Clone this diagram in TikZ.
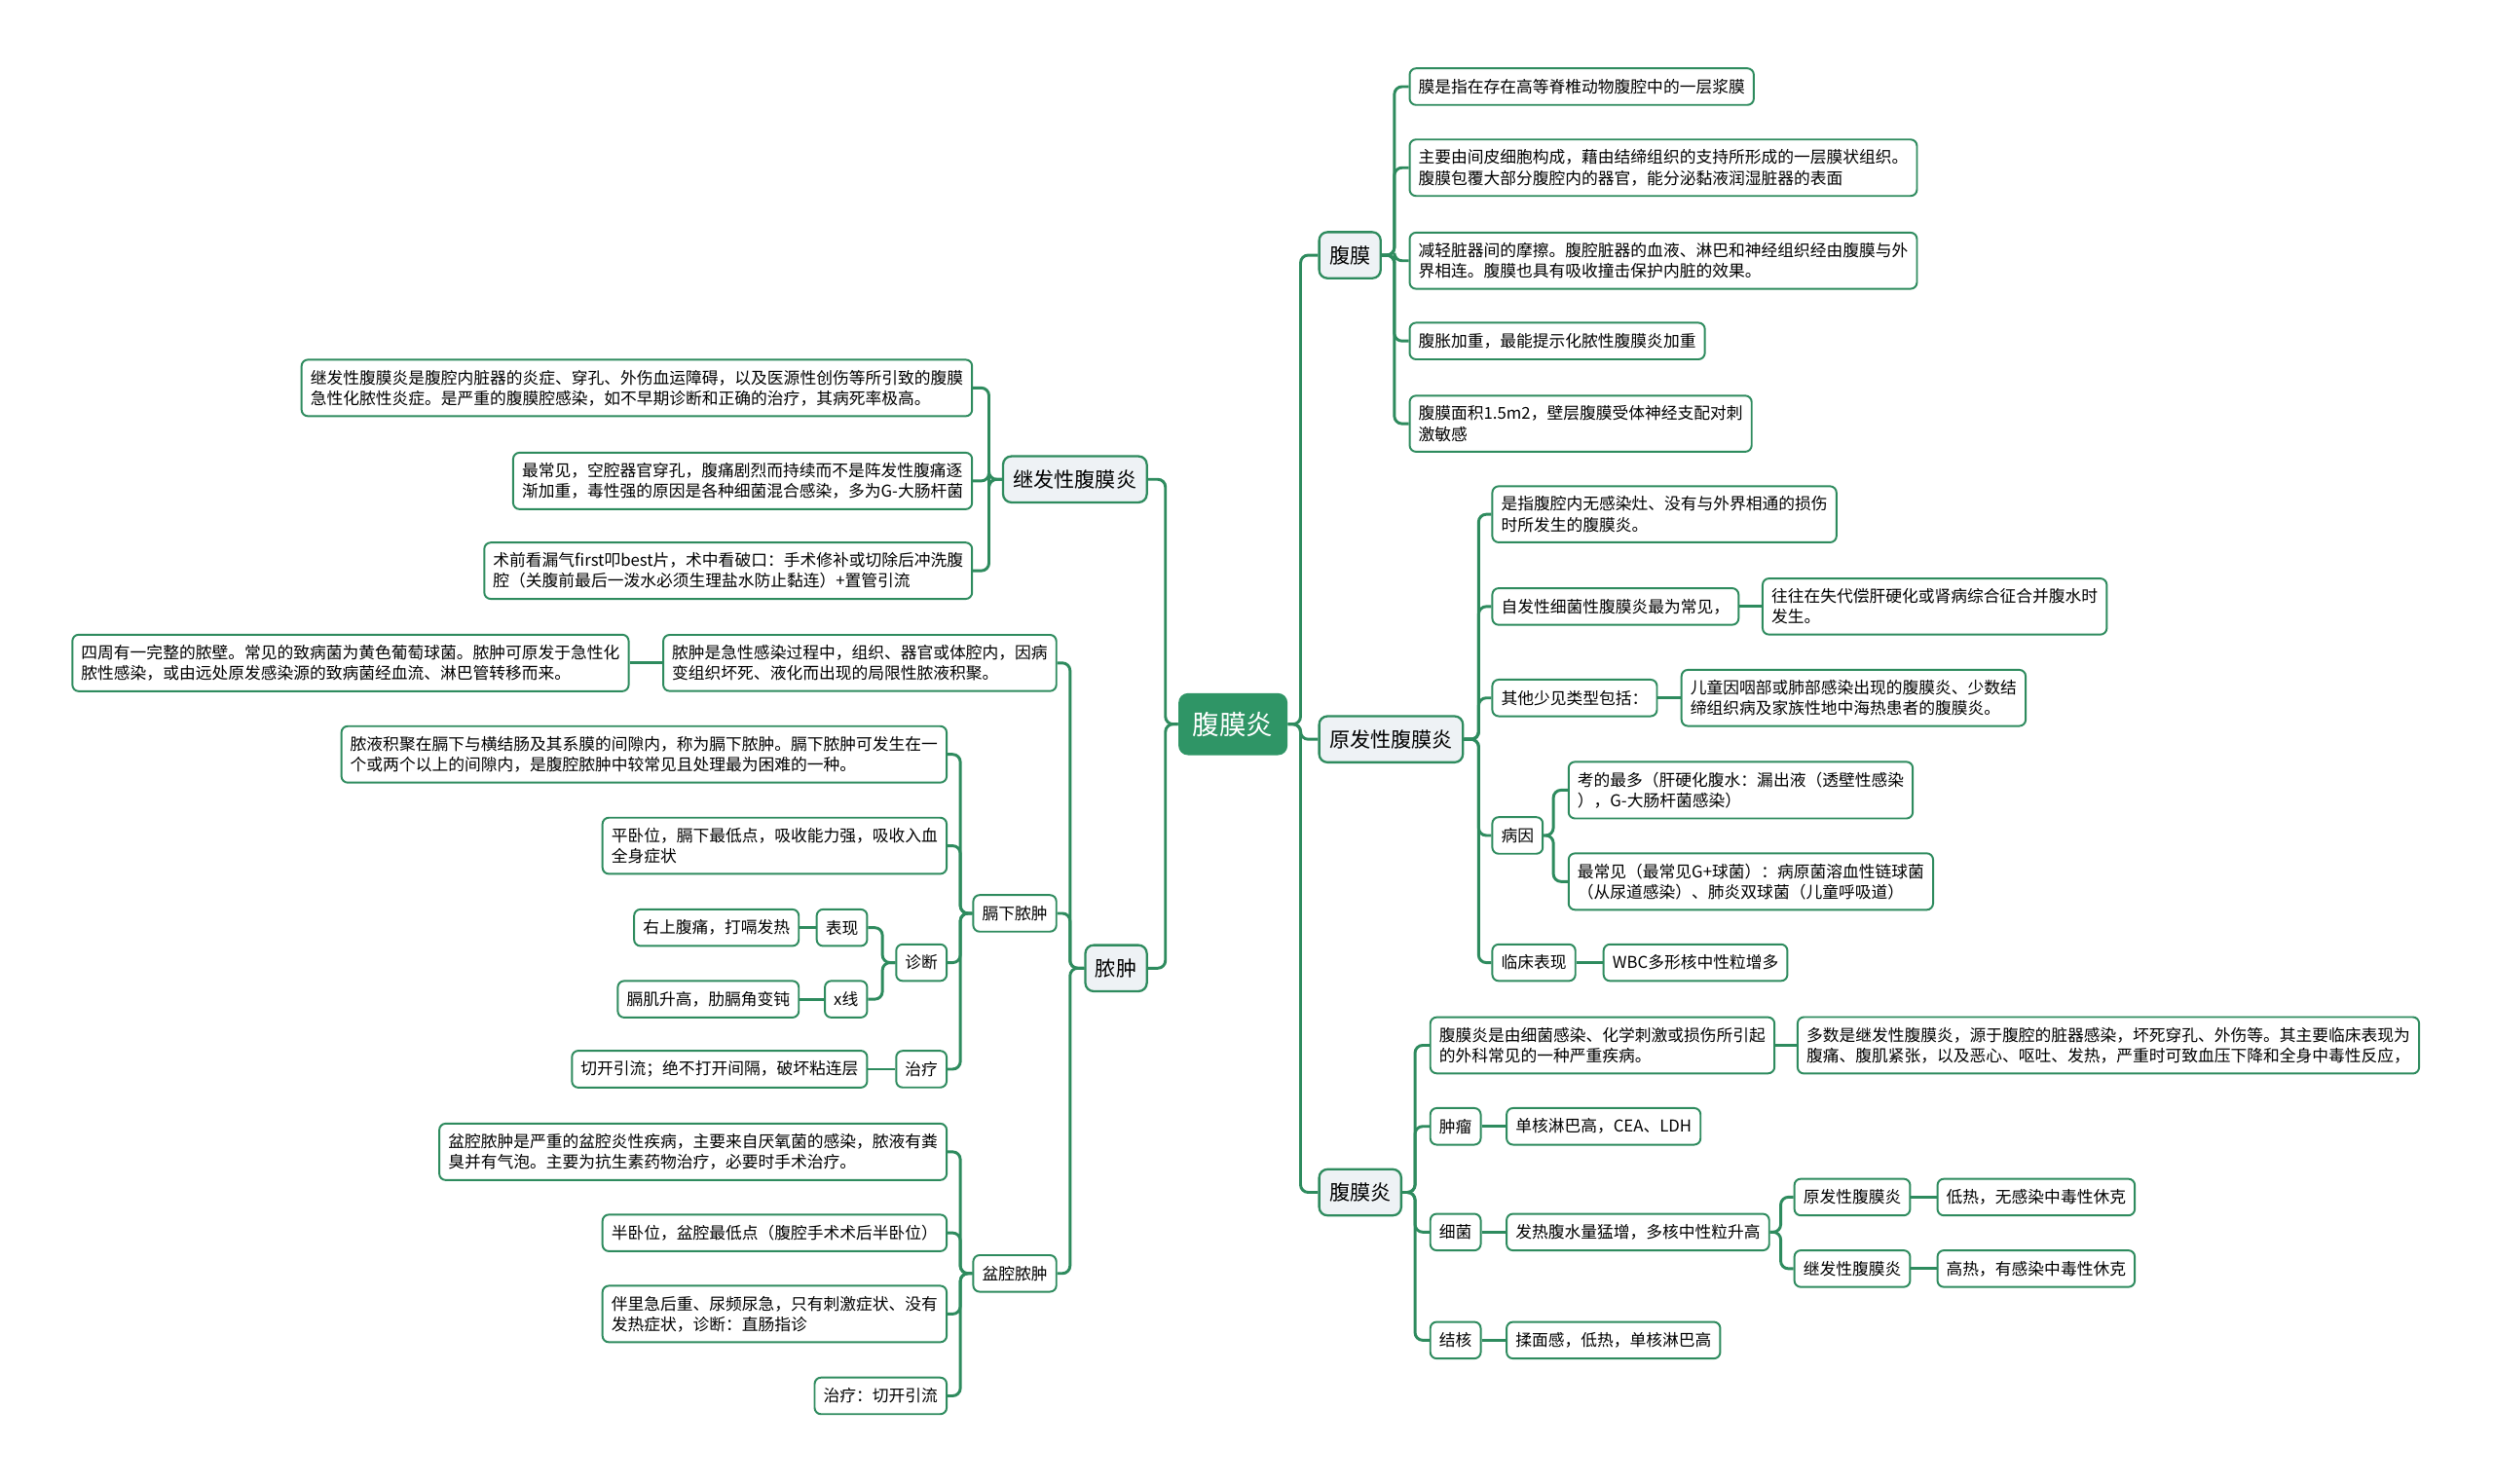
\documentclass[tikz,border=0pt]{standalone}
\usepackage{fontspec}
\setmainfont{Noto Sans CJK SC}
\definecolor{mmgreen}{HTML}{2E8B5E}
\definecolor{mmroot}{HTML}{2F9566}
\definecolor{mmgray}{HTML}{EEF2F5}
\newcommand{\mmleaf}{\fontsize{7.3pt}{9.2pt}\selectfont}
\newcommand{\mmtopic}{\fontsize{9.2pt}{11pt}\selectfont}
\newcommand{\mmroot}{\fontsize{12pt}{14pt}\selectfont}

\begin{document}
\begin{tikzpicture}[x=0.25mm,y=-0.25mm,
  leaf/.style={draw=mmgreen,line width=0.3mm,rounded corners=1mm,fill=white,font=\mmleaf,align=left,inner xsep=1.4mm,inner ysep=1.6mm,minimum height=5.75mm},
  topic/.style={draw=mmgreen,line width=0.35mm,rounded corners=1.3mm,fill=mmgray,font=\mmtopic,inner xsep=1.6mm,inner ysep=2mm,minimum height=7.25mm},
  root/.style={fill=mmroot,text=white,rounded corners=1.5mm,font=\mmroot,inner xsep=2.25mm,minimum height=9.75mm},
  link/.style={draw=mmgreen,line width=0.45mm,rounded corners=1.2mm}]
 \useasboundingbox (0,0) rectangle (1568,933);

 \node[root] (root) at (775.5,455.5) {腹膜炎};

 \node[topic,anchor=west] (pm)  at (829,160.5) {腹膜};
 \node[topic,anchor=west] (yf)  at (829,465)   {原发性腹膜炎};
 \node[topic,anchor=west] (fmy) at (829,750)   {腹膜炎};
 \node[topic,anchor=east] (jf)  at (722,301.5) {继发性腹膜炎};
 \node[topic,anchor=east] (nz)  at (722,609)   {脓肿};

 \node[leaf,anchor=west] (pm1) at (886,54.5)  {膜是指在存在高等脊椎动物腹腔中的一层浆膜};
 \node[leaf,anchor=west] (pm2) at (886,105.5) {主要由间皮细胞构成，藉由结缔组织的支持所形成的一层膜状组织。\\腹膜包覆大部分腹腔内的器官，能分泌黏液润湿脏器的表面};
 \node[leaf,anchor=west] (pm3) at (886,164)   {减轻脏器间的摩擦。腹腔脏器的血液、淋巴和神经组织经由腹膜与外\\界相连。腹膜也具有吸收撞击保护内脏的效果。};
 \node[leaf,anchor=west] (pm4) at (886,214.5) {腹胀加重，最能提示化脓性腹膜炎加重};
 \node[leaf,anchor=west] (pm5) at (886,266.5) {腹膜面积1.5m2，壁层腹膜受体神经支配对刺\\激敏感};

 \node[leaf,anchor=west] (yf1)  at (938,323.5)  {是指腹腔内无感染灶、没有与外界相通的损伤\\时所发生的腹膜炎。};
 \node[leaf,anchor=west] (yf2)  at (938,381.5)  {自发性细菌性腹膜炎最为常见，};
 \node[leaf,anchor=west] (yf2a) at (1108,381.5) {往往在失代偿肝硬化或肾病综合征合并腹水时\\发生。};
 \node[leaf,anchor=west] (yf3)  at (938,439)    {其他少见类型包括：};
 \node[leaf,anchor=west] (yf3a) at (1057,439)   {儿童因咽部或肺部感染出现的腹膜炎、少数结\\缔组织病及家族性地中海热患者的腹膜炎。};
 \node[leaf,anchor=west] (yf4)  at (938,525.5)  {病因};
 \node[leaf,anchor=west] (yf4a) at (986,497)    {考的最多（肝硬化腹水：漏出液（透壁性感染\\），G-大肠杆菌感染）};
 \node[leaf,anchor=west] (yf4b) at (986,554.5)  {最常见（最常见G+球菌）：病原菌溶血性链球菌\\（从尿道感染）、肺炎双球菌（儿童呼吸道）};
 \node[leaf,anchor=west] (yf5)  at (938,605.5)  {临床表现};
 \node[leaf,anchor=west] (yf5a) at (1008,605.5) {WBC多形核中性粒增多};

 \node[leaf,anchor=west] (fm1)  at (899,657.5)  {腹膜炎是由细菌感染、化学刺激或损伤所引起\\的外科常见的一种严重疾病。};
 \node[leaf,anchor=west] (fm1a) at (1130,657.5) {多数是继发性腹膜炎，源于腹腔的脏器感染，坏死穿孔、外伤等。其主要临床表现为\\腹痛、腹肌紧张，以及恶心、呕吐、发热，严重时可致血压下降和全身中毒性反应，};
 \node[leaf,anchor=west] (fm2)  at (899,708.5)  {肿瘤};
 \node[leaf,anchor=west] (fm2a) at (947,708.5)  {单核淋巴高，CEA、LDH};
 \node[leaf,anchor=west] (fm3)  at (899,775)    {细菌};
 \node[leaf,anchor=west] (fm3a) at (947,775)    {发热腹水量猛增，多核中性粒升高};
 \node[leaf,anchor=west] (fm3b) at (1128,753)   {原发性腹膜炎};
 \node[leaf,anchor=west] (fm3ba) at (1218,753)  {低热，无感染中毒性休克};
 \node[leaf,anchor=west] (fm3c) at (1128,798)   {继发性腹膜炎};
 \node[leaf,anchor=west] (fm3ca) at (1218,798)  {高热，有感染中毒性休克};
 \node[leaf,anchor=west] (fm4)  at (899,843)    {结核};
 \node[leaf,anchor=west] (fm4a) at (947,843)    {揉面感，低热，单核淋巴高};

 \node[leaf,anchor=east] (jf1) at (612,244)   {继发性腹膜炎是腹腔内脏器的炎症、穿孔、外伤血运障碍，以及医源性创伤等所引致的腹膜\\急性化脓性炎症。是严重的腹膜腔感染，如不早期诊断和正确的治疗，其病死率极高。};
 \node[leaf,anchor=east] (jf2) at (612,302.5) {最常见，空腔器官穿孔，腹痛剧烈而持续而不是阵发性腹痛逐\\渐加重，毒性强的原因是各种细菌混合感染，多为G-大肠杆菌};
 \node[leaf,anchor=east] (jf3) at (612,359)   {术前看漏气first叩best片，术中看破口：手术修补或切除后冲洗腹\\腔（关腹前最后一泼水必须生理盐水防止黏连）+置管引流};

 \node[leaf,anchor=east] (nz1)  at (665,417)   {脓肿是急性感染过程中，组织、器官或体腔内，因病\\变组织坏死、液化而出现的局限性脓液积聚。};
 \node[leaf,anchor=east] (nz1a) at (396,417)   {四周有一完整的脓壁。常见的致病菌为黄色葡萄球菌。脓肿可原发于急性化\\脓性感染，或由远处原发感染源的致病菌经血流、淋巴管转移而来。};
 \node[leaf,anchor=east] (nz2)  at (665,574.5) {膈下脓肿};
 \node[leaf,anchor=east] (nz3)  at (665,801)   {盆腔脓肿};

 \node[leaf,anchor=east] (gx1)  at (596,474.5) {脓液积聚在膈下与横结肠及其系膜的间隙内，称为膈下脓肿。膈下脓肿可发生在一\\个或两个以上的间隙内，是腹腔脓肿中较常见且处理最为困难的一种。};
 \node[leaf,anchor=east] (gx2)  at (596,532)   {平卧位，膈下最低点，吸收能力强，吸收入血\\全身症状};
 \node[leaf,anchor=east] (gx3)  at (596,605.5) {诊断};
 \node[leaf,anchor=east] (gx3a) at (546,583.5) {表现};
 \node[leaf,anchor=east] (gx3aa) at (503,583.5) {右上腹痛，打嗝发热};
 \node[leaf,anchor=east] (gx3b) at (546,628.5) {x线};
 \node[leaf,anchor=east] (gx3ba) at (503,628.5) {膈肌升高，肋膈角变钝};
 \node[leaf,anchor=east] (gx4)  at (596,672.5) {治疗};
 \node[leaf,anchor=east] (gx4a) at (546,672.5) {切开引流；绝不打开间隔，破坏粘连层};

 \node[leaf,anchor=east] (pq1) at (596,724.5) {盆腔脓肿是严重的盆腔炎性疾病，主要来自厌氧菌的感染，脓液有粪\\臭并有气泡。主要为抗生素药物治疗，必要时手术治疗。};
 \node[leaf,anchor=east] (pq2) at (596,775.5) {半卧位，盆腔最低点（腹腔手术术后半卧位）};
 \node[leaf,anchor=east] (pq3) at (596,826.5) {伴里急后重、尿频尿急，只有刺激症状、没有\\发热症状，诊断：直肠指诊};
 \node[leaf,anchor=east] (pq4) at (596,878)   {治疗：切开引流};

 \foreach \n in {pm,yf,fmy} \draw[link] (\n.west) -- ++(-11,0) |- (root.east);
 \foreach \n in {jf,nz} \draw[link] (\n.east) -- ++(11,0) |- (root.west);
 \foreach \n in {pm1,pm2,pm3,pm4,pm5} \draw[link] (\n.west) -- ++(-9,0) |- (pm.east);
 \foreach \n in {yf1,yf2,yf3,yf4,yf5} \draw[link] (\n.west) -- ++(-8,0) |- (yf.east);
 \foreach \n in {yf4a,yf4b} \draw[link] (\n.west) -- ++(-9,0) |- (yf4.east);
 \foreach \n in {fm1,fm2,fm3,fm4} \draw[link] (\n.west) -- ++(-9,0) |- (fmy.east);
 \foreach \n in {fm3b,fm3c} \draw[link] (\n.west) -- ++(-8,0) |- (fm3a.east);
 \draw[link] (yf2) -- (yf2a);
 \draw[link] (yf3) -- (yf3a);
 \draw[link] (yf5) -- (yf5a);
 \draw[link] (fm1) -- (fm1a);
 \draw[link] (fm2) -- (fm2a);
 \draw[link] (fm3) -- (fm3a);
 \draw[link] (fm4) -- (fm4a);
 \draw[link] (fm3b) -- (fm3ba);
 \draw[link] (fm3c) -- (fm3ca);

 \foreach \n in {jf1,jf2,jf3} \draw[link] (\n.east) -- ++(10,0) |- (jf.west);
 \foreach \n in {nz1,nz2,nz3} \draw[link] (\n.east) -- ++(8,0) |- (nz.west);
 \foreach \n in {gx1,gx2,gx3,gx4} \draw[link] (\n.east) -- ++(8,0) |- (nz2.west);
 \foreach \n in {gx3a,gx3b} \draw[link] (\n.east) -- ++(9,0) |- (gx3.west);
 \foreach \n in {pq1,pq2,pq3,pq4} \draw[link] (\n.east) -- ++(8,0) |- (nz3.west);
 \draw[link] (nz1) -- (nz1a);
 \draw[link] (gx3a) -- (gx3aa);
 \draw[link] (gx3b) -- (gx3ba);
 \draw[link] (gx4) -- (gx4a);
\end{tikzpicture}
\end{document}
